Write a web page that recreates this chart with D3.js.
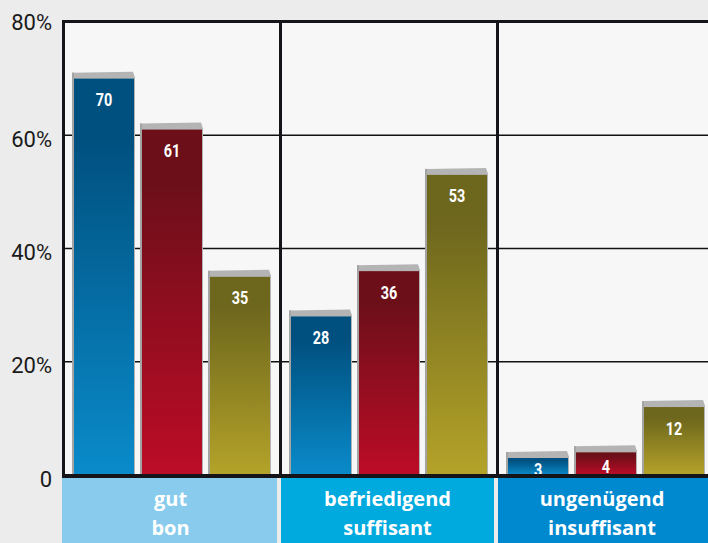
<!DOCTYPE html>
<html>
<head>
<meta charset="utf-8">
<script src="https://cdn.jsdelivr.net/npm/d3@7"></script>
<style>
  body { margin: 0; background: #ececec; }
  svg { display: block; }
</style>
</head>
<body>
<div id="chart"></div>
<script>
// chart data
const categories = ["gut", "befriedigend", "ungenügend"];
const categoryFr = ["bon", "suffisant", "insuffisant"];
const seriesNames = ["blau", "rot", "oliv"];
const values = [
    [70, 61, 35],
    [28, 36, 53],
    [3, 4, 12]
];
const yTicks = [0, 20, 40, 60, 80];

const width = 708, height = 543;
const margin = { top: 22, right: 0, bottom: 67, left: 62 };

const svg = d3.select("#chart").append("svg")
    .attr("width", width)
    .attr("height", height);

// gradients for the bars (one per bar, top dark -> bottom bright)
const defs = svg.append("defs");
const gradStops = {
    blau: ["#00507f", "#0a8bca"],
    rot:  ["#6c0f19", "#bd0c27"],
    oliv: ["#6d661d", "#b4a329"]
};
seriesNames.forEach(s => {
    const g = defs.append("linearGradient")
        .attr("id", "grad-" + s)
        .attr("x1", 0).attr("y1", 0).attr("x2", 0).attr("y2", 1);
    g.append("stop").attr("offset", 0).attr("stop-color", gradStops[s][0]);
    g.append("stop").attr("offset", 0.15).attr("stop-color", gradStops[s][0]);
    g.append("stop").attr("offset", 1).attr("stop-color", gradStops[s][1]);
});

// scales
const y = d3.scaleLinear().domain([0, 80]).range([height - margin.bottom - 1, margin.top]);
const x0 = d3.scaleBand().domain(categories).range([margin.left, margin.left + 3 * 217]);
const x1 = d3.scaleBand().domain(seriesNames).range([10, 208]).paddingInner(0.088);

// background of plot area
svg.append("rect")
    .attr("x", margin.left).attr("y", margin.top)
    .attr("width", width - margin.left).attr("height", y(0) - margin.top)
    .attr("fill", "#f7f7f7");

// gridlines
svg.append("g").selectAll("line")
    .data(yTicks.filter(t => t > 0 && t < 80))
    .join("line")
    .attr("x1", margin.left).attr("x2", width)
    .attr("y1", d => y(d)).attr("y2", d => y(d))
    .attr("stroke", "#111").attr("stroke-width", 1.3);

// bars
const groups = svg.append("g").selectAll("g")
    .data(categories)
    .join("g")
    .attr("transform", d => `translate(${x0(d)},0)`);

const bars = groups.selectAll("g.bar")
    .data((c, i) => seriesNames.map((s, j) => ({ s: s, v: values[i][j] })))
    .join("g")
    .attr("class", "bar");

const cap = 6;
// gray side + top cap
bars.append("path")
    .attr("d", d => {
        const xa = x1(d.s), w = x1.bandwidth(), t = y(d.v);
        return `M${xa},${t - cap} L${xa + w - 1},${t - cap - 1} L${xa + w + 1},${t - 1} L${xa + w + 1},${y(0)} L${xa},${y(0)} Z`;
    })
    .attr("fill", "#b4b4b4");
bars.append("rect")
    .attr("x", d => x1(d.s))
    .attr("y", d => y(d.v) - cap)
    .attr("width", 2)
    .attr("height", d => y(0) - y(d.v) + cap)
    .attr("fill", "#a4a4a4");
// face
bars.append("rect")
    .attr("x", d => x1(d.s) + 2)
    .attr("y", d => y(d.v))
    .attr("width", x1.bandwidth() - 2)
    .attr("height", d => y(0) - y(d.v))
    .attr("fill", d => `url(#grad-${d.s})`);
// value labels (narrowed bold face)
bars.append("text")
    .attr("transform", d => {
        const cx = x1(d.s) + 2 + (x1.bandwidth() - 2) / 2;
        const cy = y(d.v) + Math.min(21, (y(0) - y(d.v)) / 2 + 3);
        return `translate(${cx},${cy}) scale(0.8,1)`;
    })
    .attr("dy", "0.36em")
    .attr("text-anchor", "middle")
    .attr("fill", "#fff")
    .style("font-family", "Roboto, sans-serif")
    .style("font-weight", "bold")
    .style("font-size", "18px")
    .text(d => d.v);

// frame: top, left, dividers, bottom
const frame = svg.append("g").attr("stroke", "#151519");
frame.append("line")
    .attr("x1", margin.left).attr("x2", width)
    .attr("y1", margin.top - 0.5).attr("y2", margin.top - 0.5)
    .attr("stroke-width", 3);
frame.selectAll("line.div")
    .data(categories)
    .join("line")
    .attr("class", "div")
    .attr("x1", d => x0(d) + 1.5).attr("x2", d => x0(d) + 1.5)
    .attr("y1", margin.top - 2).attr("y2", y(0))
    .attr("stroke-width", 3);
frame.append("line")
    .attr("x1", margin.left).attr("x2", width)
    .attr("y1", y(0) + 1).attr("y2", y(0) + 1)
    .attr("stroke-width", 4);

// category bands
const bands = svg.append("g").selectAll("g")
    .data(categories)
    .join("g");
const bandColors = ["#88cbec", "#00a9de", "#0089cf"];
bands.append("rect")
    .attr("x", (d, i) => x0(d) + (i ? 2 : 0))
    .attr("y", y(0) + 3)
    .attr("width", (d, i) => x0.bandwidth() - (i ? 2 : 0) - 2)
    .attr("height", height - y(0))
    .attr("fill", (d, i) => bandColors[i]);
const bandText = bands.append("text")
    .attr("text-anchor", "middle")
    .attr("fill", "#fff")
    .style("font-family", "'Open Sans', Roboto, sans-serif")
    .style("font-weight", "bold")
    .style("font-size", "20px");
bandText.append("tspan")
    .attr("x", d => Math.min(x0(d) + x0.bandwidth() / 2, (x0(d) + width) / 2))
    .attr("y", 506)
    .text(d => d);
bandText.append("tspan")
    .attr("x", d => Math.min(x0(d) + x0.bandwidth() / 2, (x0(d) + width) / 2))
    .attr("y", 535)
    .text((d, i) => categoryFr[i]);

// y axis
const yAxis = svg.append("g")
    .attr("transform", `translate(${margin.left - 10},0)`)
    .call(d3.axisLeft(y).tickValues(yTicks).tickSize(0).tickPadding(0)
        .tickFormat(d => d === 0 ? "0" : d + "%"));
yAxis.select(".domain").remove();
yAxis.selectAll("text")
    .attr("dy", (d) => d === 80 ? "0.35em" : "0.5em")
    .attr("fill", "#1a1a1a")
    .style("font-family", "Roboto, sans-serif")
    .style("font-size", "22px");
</script>
</body>
</html>
